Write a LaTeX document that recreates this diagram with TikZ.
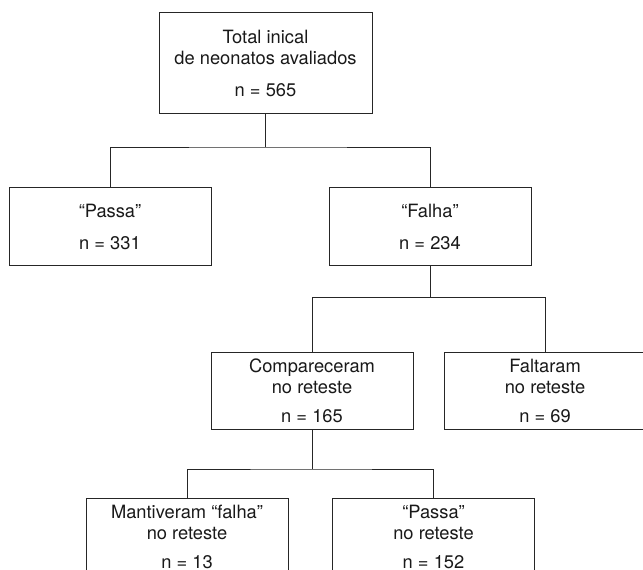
\documentclass[tikz,border=0pt]{standalone}
\usepackage{fontspec}
\setmainfont{TeX Gyre Heros}
\usepackage{tikz}
\usetikzlibrary{calc,positioning}

\begin{document}
\begin{tikzpicture}[x=1pt, y=-1pt]
	\tikzstyle{every node} = [rectangle, draw = black!85, line width = 0.9pt, text = black!90, align = center, inner sep = 0pt, minimum width = 202pt, minimum height = 78pt, font = \fontsize{18.3}{21}\selectfont]
	\useasboundingbox (0,0) rectangle (643,570);
	\clip (0,0) rectangle (643,570);
\node[minimum width = 213pt, minimum height = 101pt] (0) at (265.5, 63.2) {Total inical\\de neonatos avaliados\\[11pt]n = 565};
\node (1) at (110, 226.5) {“Passa”\\[11pt]n = 331};
\node (2) at (430, 226.5) {“Falha”\\[11pt]n = 234};
\node[minimum height = 76.6pt] (3) at (312, 391) {Compareceram\\no reteste\\[8pt]n = 165};
\node[minimum height = 76.6pt] (4) at (545, 391) {Faltaram\\no reteste\\[8pt]n = 69};
\node[minimum height = 76.6pt] (5) at (187, 537) {Mantiveram “falha”\\no reteste\\[8pt]n = 13};
\node[minimum height = 76.6pt] (6) at (433.5, 537) {“Passa”\\no reteste\\[8pt]n = 152};
	\coordinate (10) at (265.5, 147);
	\coordinate (20) at (430, 297.3);
	\coordinate (30) at (312, 469);
	\path[draw, draw = black!85, line width = 0.9pt] (0) -- (10);
	\path[draw, draw = black!85, line width = 0.9pt] (1) |- (10) -| (2);
	\path[draw, draw = black!85, line width = 0.9pt] (2) -- (20);
	\path[draw, draw = black!85, line width = 0.9pt] (3) |- (20) -| (4);
	\path[draw, draw = black!85, line width = 0.9pt] (3) -- (30);
	\path[draw, draw = black!85, line width = 0.9pt] (5) |- (30) -| (6);
	\end{tikzpicture}
\end{document}
